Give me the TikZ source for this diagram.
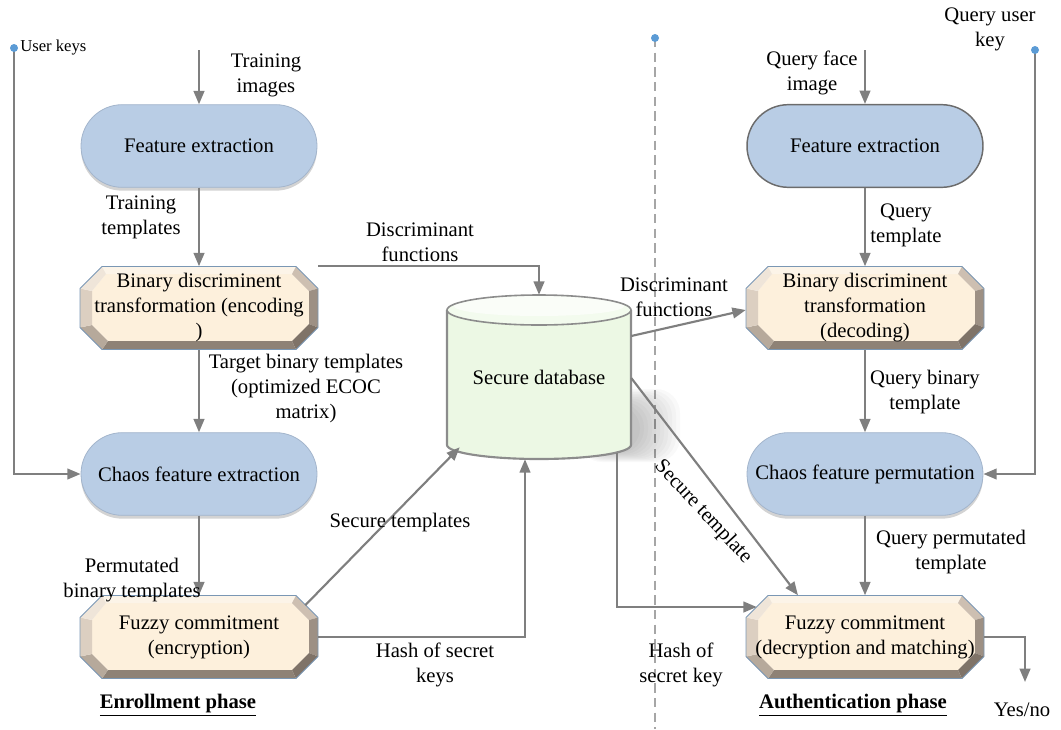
\documentclass[tikz,border=0pt]{standalone}
\usepackage{fontspec}
\setmainfont{Liberation Serif}
\newfontfamily\diagserif{Liberation Serif}
\usetikzlibrary{arrows.meta,shapes.misc,shadows,calc}

\definecolor{arrgray}{HTML}{7F7F7F}
\definecolor{dotblue}{HTML}{5B9BD5}
\definecolor{dashgray}{HTML}{A6A6A6}
\definecolor{stadfill}{HTML}{B9CDE5}
\definecolor{staddraw}{HTML}{A3B5CC}
\definecolor{octcenter}{HTML}{FDF0DC}
\definecolor{octtop}{HTML}{FCF4E8}
\definecolor{octtr}{HTML}{CDBFB1}
\definecolor{octr}{HTML}{9D9084}
\definecolor{octbr}{HTML}{7F7368}
\definecolor{octb}{HTML}{8E8276}
\definecolor{octbl}{HTML}{B6A99B}
\definecolor{octl}{HTML}{DCCFC1}
\definecolor{octtl}{HTML}{EFE5D9}
\definecolor{octline}{HTML}{7A97B4}
\definecolor{cylbody}{HTML}{ECF8E4}
\definecolor{cyltop}{HTML}{F3FBEE}
\definecolor{cylline}{HTML}{8C8C8C}

% beveled octagon: name, centre x, centre y, text
\newcommand\bevbox[4]{%
  \begin{scope}[shift={(#2,#3)}]
    \fill[octcenter] (-93,-34) -- (93,-34) -- (110,-17) -- (110,16) -- (93,33) -- (-91,33) -- (-107,17) -- (-107,-17) -- cycle;
    \fill[octtop] (-97,-41.5) -- (97,-41.5) -- (93,-34) -- (-93,-34) -- cycle;
    \fill[octtr]  (97,-41.5) -- (119,-19.5) -- (110,-17) -- (93,-34) -- cycle;
    \fill[octr]   (119,-19.5) -- (119,19.5) -- (110,16) -- (110,-17) -- cycle;
    \fill[octbr]  (119,19.5) -- (97,41.5) -- (93,33) -- (110,16) -- cycle;
    \fill[octb]   (97,41.5) -- (-97,41.5) -- (-91,33) -- (93,33) -- cycle;
    \fill[octbl]  (-97,41.5) -- (-119,19.5) -- (-107,17) -- (-91,33) -- cycle;
    \fill[octl]   (-119,19.5) -- (-119,-19.5) -- (-107,-17) -- (-107,17) -- cycle;
    \fill[octtl]  (-119,-19.5) -- (-97,-41.5) -- (-93,-34) -- (-107,-17) -- cycle;
    \draw[octline, line width=0.6pt] (-97,-41.5) -- (97,-41.5) -- (119,-19.5) -- (119,19.5) -- (97,41.5) -- (-97,41.5) -- (-119,19.5) -- (-119,-19.5) -- cycle;
  \end{scope}
  \node[octnode] (#1) at (#2,#3) {#4};}

\begin{document}
\begin{tikzpicture}[x=0.75pt,y=-0.75pt,
  txt/.style={font=\diagserif\fontsize{15.5}{18.75}\selectfont},
  conn/.style={draw=arrgray, line width=1.6pt, -{Triangle[length=10pt,width=8pt]}},
  lbl/.style={txt, align=center, inner sep=0pt},
  stad/.style={rounded rectangle, minimum width=177pt, minimum height=62pt, inner sep=0pt,
    fill=stadfill, draw=staddraw, line width=0.6pt, txt,
    drop shadow={shadow xshift=0pt, shadow yshift=-2.5pt, opacity=0.35}},
  stadin/.style={rounded rectangle, minimum width=177pt, minimum height=62pt, inner sep=0pt,
    fill=stadfill, draw=gray!85!black, line width=1.1pt, txt},
  octnode/.style={rectangle, minimum width=178.5pt, minimum height=62.25pt, inner sep=0pt, align=center, txt},
  dot/.style={circle, fill=dotblue, inner sep=0pt, minimum size=6pt},
  phase/.style={font=\diagserif\fontsize{15.5}{18}\selectfont\bfseries, inner sep=0pt}]
\useasboundingbox (0,0) rectangle (1061,729);

% ---------- separator between the two phases ----------
\coordinate (sepTop) at (655,38);
\coordinate (sepBot) at (655,729);
\draw[dashgray, line width=1pt, dash pattern=on 7pt off 4pt] (sepTop) -- (sepBot);
\node[dot] (sepDot) at (sepTop) {};

% ---------- secure database (cylinder) ----------
% soft shadow to the lower right
\foreach \k in {0,4,...,40}{
  \fill[black, opacity=0.025, rounded corners=18pt] (590-\k*0.3,405-\k*0.4) rectangle (640+\k,452+\k*0.25);
}
\fill[cylbody] (447,310) -- (447,445) arc[start angle=180, end angle=360, x radius=69pt, y radius=10.5pt] -- (631,310) -- cycle;
\draw[cylline, line width=1.6pt] (447,310) -- (447,445) arc[start angle=180, end angle=360, x radius=69pt, y radius=10.5pt] -- (631,310);
\fill[cyltop] (539,310) ellipse [x radius=69pt, y radius=11.25pt];
\fill[white!60!cyltop] (539,306) ellipse [x radius=64pt, y radius=7.5pt];
\draw[cylline, line width=1.2pt] (539,310) ellipse [x radius=69pt, y radius=11.25pt];
\node[txt, minimum width=138pt, minimum height=123pt, inner sep=0pt] (db) at (539,377) {Secure database};

% ---------- enrollment phase ----------
\node[stad] (fe1) at (199,146) {Feature extraction};
\bevbox{bde}{199}{308}{Binary discriminent\\transformation (encoding\\)}
\node[stad] (cfe) at (199,474) {Chaos feature extraction};
\bevbox{fce}{199}{637}{Fuzzy commitment\\(encryption)}

\coordinate (trainIn) at (199,50);
\draw[conn] (trainIn) -- (fe1.north);
\draw[conn] (fe1.south) -- (bde.north);
\draw[conn] (bde.south) -- (cfe.north);
\draw[conn] (cfe.south) -- (fce.north);

\coordinate (ukey) at (14,48);
\draw[conn] (ukey) |- (cfe.west);
\node[dot] (ukeyDot) at (ukey) {};

\draw[conn] (bde.north east) -| (db.north);
\draw[conn] ($(fce.north east)+(-13,10)$) -- ($(db.south west)+(13,-12)$);
\draw[conn] (fce.east) -| ($(db.south)+(-14,0)$);

% ---------- authentication phase ----------
\node[stadin] (fe2) at (865,146) {Feature extraction};
\bevbox{bdd}{865}{308}{Binary discriminent\\transformation\\(decoding)}
\node[stad] (cfp) at (865,474) {Chaos feature permutation};
\bevbox{fcd}{865}{637}{Fuzzy commitment\\(decryption and matching)}

\coordinate (queryIn) at (865,50);
\draw[conn] (queryIn) -- (fe2.north);
\draw[conn] (fe2.south) -- (bdd.north);
\draw[conn] (bdd.south) -- (cfp.north);
\draw[conn] (cfp.south) -- (fcd.north);

\coordinate (qkey) at (1035,50);
\draw[conn] (qkey) |- (cfp.east);
\node[dot] (qkeyDot) at (qkey) {};

\draw[conn] ($(db.east)+(0,-41)$) -- ($(bdd.west)+(0,2)$);
\draw[conn] ($(db.east)+(0,1)$) -- ($(fcd.north)+(-67,0)$);
\draw[conn] ($(db.south east)+(-14,-6)$) |- ($(fcd.west)+(11,-30)$);

\coordinate (yesno) at (1025,682);
\draw[conn] (fcd.east) -| (yesno);

% ---------- labels ----------
\node[lbl] (lTrainImg) at (266,75) {Training\\images};
\node[lbl] (lTrainTpl) at (141,217) {Training\\templates};
\node[lbl] (lDiscL) at (420,242) {Discriminant\\functions};
\node[lbl] (lTarget) at (306,389) {Target binary templates\\(optimized ECOC\\matrix)};
\node[lbl] (lPerm) at (132,580) {Permutated\\binary templates};
\node[lbl] (lSecT) at (400,523) {Secure templates};
\node[lbl] (lHashK) at (435,665) {Hash of secret\\keys};
\node[phase] (lEnroll) at (178,705) {\underline{Enrollment phase}};
\node[font=\diagserif\fontsize{12.5}{14}\selectfont, anchor=west, inner sep=0pt] (lUser) at (20,48) {User keys};

\node[lbl] (lDiscR) at (674,297) {Discriminant\\functions};
\node[lbl, rotate=-47] (lSecR) at (703,512) {Secure template};
\node[lbl] (lHashR) at (681,665) {Hash of\\secret key};
\node[lbl] (lQFace) at (812,73) {Query face\\image};
\node[lbl] (lQUser) at (990,29) {Query user\\key};
\node[lbl] (lQTpl) at (906,225) {Query\\template};
\node[lbl] (lQBin) at (925,392) {Query binary\\template};
\node[lbl] (lQPerm) at (951,552) {Query permutated\\template};
\node[phase] (lAuth) at (853,705) {\underline{Authentication phase}};
\node[lbl] (lYes) at (1022,710) {Yes/no};
\end{tikzpicture}
\end{document}
